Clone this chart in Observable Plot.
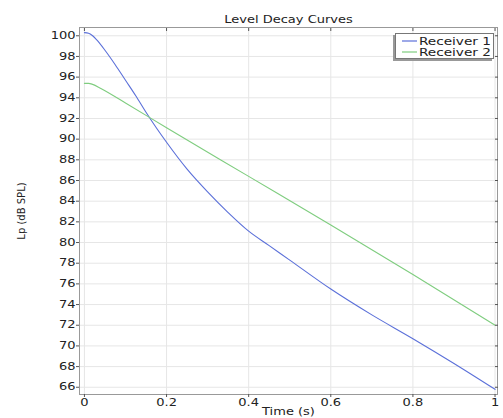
<!DOCTYPE html>
<html>
<head>
<meta charset="utf-8">
<script src="https://cdn.jsdelivr.net/npm/d3@7"></script>
<script src="https://cdn.jsdelivr.net/npm/@observablehq/plot@0.6"></script>
<style>
  html, body { margin: 0; padding: 0; background: #fff; }
  #wrap { position: relative; width: 503px; height: 418px; font-family: "DejaVu Sans", sans-serif; }
  #legend { position: absolute; left: 395px; top: 33px; width: 99px; height: 26px; background: #fff;
    border: 1px solid #777; box-shadow: -2px 2px 0 #999; box-sizing: border-box; }
  #legend svg { position: absolute; left: 0; top: 0; }
</style>
</head>
<body>
<div id="wrap"></div>
<script>
const title = "Level Decay Curves";
const xLabel = "Time (s)";
const yLabel = "Lp (dB SPL)";
const seriesNames = ["Receiver 1", "Receiver 2"];
const seriesColors = ["#5b70d9", "#7fcd7f"];

const time1 = [0, 0.01, 0.02, 0.03, 0.05, 0.075, 0.1, 0.125, 0.15, 0.175, 0.2, 0.25, 0.3, 0.35, 0.4, 0.45, 0.5, 0.6, 0.7, 0.8, 0.9, 1.0];
const level1 = [100.3, 100.25, 100.0, 99.6, 98.6, 97.2, 95.7, 94.2, 92.6, 91.1, 89.7, 87.1, 84.9, 82.9, 81.1, 79.7, 78.3, 75.5, 73.0, 70.7, 68.3, 65.8];

const time2 = [0, 0.01, 0.02, 0.04, 0.1, 0.2, 0.4, 0.6, 0.8, 1.0];
const level2 = [95.4, 95.4, 95.3, 94.9, 93.5, 91.1, 86.4, 81.7, 76.9, 72.0];

const xTicks = [0, 0.2, 0.4, 0.6, 0.8, 1];
const yTicks = [66, 68, 70, 72, 74, 76, 78, 80, 82, 84, 86, 88, 90, 92, 94, 96, 98, 100];

const data = [
  ...time1.map((t, i) => ({t, v: level1[i], s: seriesNames[0]})),
  ...time2.map((t, i) => ({t, v: level2[i], s: seriesNames[1]}))
];

const chart = Plot.plot({
  width: 503,
  height: 418,
  marginLeft: 79,
  marginRight: 6,
  marginTop: 27,
  marginBottom: 24,
  style: {fontFamily: "DejaVu Sans, sans-serif", fontSize: "10px", color: "#222", background: "#fff"},
  x: {domain: [-0.012, 1.006]},
  y: {domain: [65.3, 100.8]},
  color: {domain: seriesNames, range: seriesColors},
  marks: [
    Plot.gridX(xTicks, {stroke: "#e6e6e6", strokeOpacity: 1}),
    Plot.gridY(yTicks, {stroke: "#e6e6e6", strokeOpacity: 1}),
    Plot.line(data, {x: "t", y: "v", stroke: "s", strokeWidth: 1.1, curve: "monotone-x"}),
    Plot.frame({stroke: "#999"}),
    Plot.axisX(xTicks, {anchor: "bottom", tickSize: 3, tickPadding: 1, tickFormat: d => String(d),
      label: xLabel, labelAnchor: "center", labelArrow: "none", labelOffset: 20, stroke: "#555"}),
    Plot.axisX(xTicks, {anchor: "top", tickSize: -3, tickFormat: () => "", label: null, stroke: "#555"}),
    Plot.axisY(yTicks, {anchor: "left", tickSize: 3, tickPadding: 1, tickFormat: d => String(d),
      label: yLabel, labelAnchor: "center", labelArrow: "none", labelOffset: 62, stroke: "#555"}),
    Plot.axisY(yTicks, {anchor: "right", tickSize: -3, tickFormat: () => "", label: null, stroke: "#555"}),
    Plot.text([title], {frameAnchor: "top", dy: -12, fontSize: 10, fill: "#222"})
  ]
});
document.getElementById("wrap").appendChild(chart);

// legend
const legend = document.createElement("div");
legend.id = "legend";
const lsvg = d3.create("svg").attr("width", 99).attr("height", 26).style("font-family", "DejaVu Sans, sans-serif");
seriesNames.forEach((name, i) => {
  const y = 7 + i * 11;
  lsvg.append("line").attr("x1", 6).attr("x2", 21).attr("y1", y).attr("y2", y)
    .attr("stroke", seriesColors[i]).attr("stroke-width", 1.2);
  lsvg.append("text").attr("x", 95).attr("y", y).attr("dy", "0.35em").attr("text-anchor", "end")
    .attr("font-size", 10.5).attr("fill", "#222").text(name);
});
legend.appendChild(lsvg.node());
document.getElementById("wrap").appendChild(legend);

// Mimic the horizontally stretched text of the original
document.querySelectorAll("#wrap svg text").forEach(t => {
  if (t.getAttribute("transform") && /rotate/.test(t.getAttribute("transform"))) return;
  const tspans = t.querySelectorAll("tspan");
  const targets = tspans.length ? tspans : [t];
  targets.forEach(el => {
    const len = el.getComputedTextLength();
    if (len > 0) {
      el.setAttribute("textLength", (len * 1.3).toFixed(2));
      el.setAttribute("lengthAdjust", "spacingAndGlyphs");
    }
  });
});
</script>
</body>
</html>
